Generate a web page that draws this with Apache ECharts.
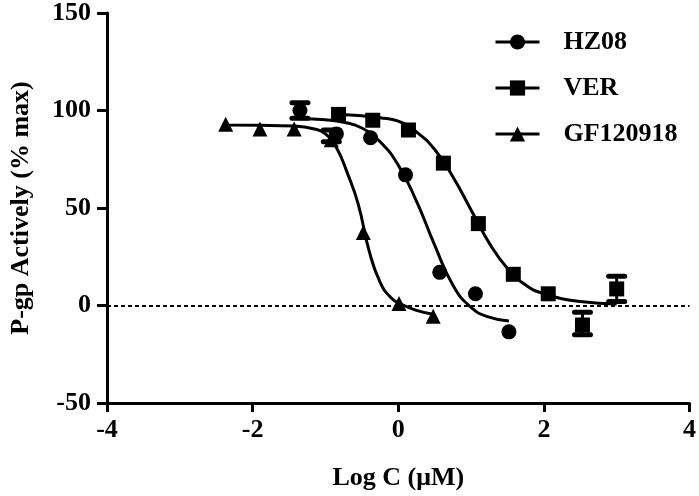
<!DOCTYPE html>
<html>
<head>
<meta charset="utf-8">
<script src="https://cdn.jsdelivr.net/npm/echarts@6/dist/echarts.min.js"></script>
<style>html,body{margin:0;padding:0;background:#fff}#c{width:699px;height:496px}</style>
</head>
<body>
<div id="c"></div>
<script>
// Tick labels
const xTicks = [-4, -2, 0, 2, 4];
const yTicks = [-50, 0, 50, 100, 150];

// Measured points (log C, % max)
const hzX = [-1.35, -0.85, -0.38, 0.1, 0.57, 1.06, 1.52];
const hzY = [100, 88, 86, 67, 17, 6, -13.5];
const verX = [-0.82, -0.35, 0.14, 0.62, 1.1, 1.58, 2.06, 2.53, 3.0];
const verY = [98, 95, 90, 73, 42, 16, 6, -10, 8.5];
const gfX = [-2.37, -1.9, -1.43, -0.92, -0.48, 0.01, 0.48];
const gfY = [93, 90.5, 90.5, 85, 37.5, 1, -5.5];

// Error bars [x, low, high]
const hzErr = [[-1.35, 96, 104]];
const verErr = [[2.53, -15, -3.5], [3.0, 2, 15]];
const gfErr = [[-0.92, 84, 90]];

// Fitted curves
const hzCurveX = [-1.35, -1.0, -0.75, -0.5, -0.25, 0, 0.25, 0.5, 0.75, 1.0, 1.25, 1.52];
const hzCurveY = [95.8, 95.2, 94, 91, 84, 72, 53.5, 31, 10.5, -1, -6, -8];
const verCurveX = [-0.82, -0.5, -0.25, 0, 0.25, 0.5, 0.75, 1.0, 1.25, 1.5, 1.75, 2.0, 2.5, 3.0];
const verCurveY = [98, 97.3, 96.3, 94.5, 89, 80, 66, 49, 32, 19, 10.5, 6, 2, 0.8];
const gfCurveX = [-2.37, -1.9, -1.43, -1.15, -1.0, -0.85, -0.7, -0.55, -0.4, -0.25, -0.1, 0.05, 0.25, 0.48];
const gfCurveY = [92.5, 92.4, 92, 90.5, 88, 81, 68, 52, 28, 12, 4, 0.5, -2.5, -4.5];

const zip = (a, b) => a.map((v, i) => [v, b[i]]);
const FONT = 'Liberation Serif';

function errRender(params, api) {
  const x = api.value(0);
  const lo = api.coord([x, api.value(1)]);
  const hi = api.coord([x, api.value(2)]);
  const hw = 8;
  const st = {stroke: '#000', lineWidth: 3};
  const cap = {stroke: '#000', lineWidth: 5, lineCap: 'round'};
  return {
    type: 'group',
    children: [
      {type: 'line', shape: {x1: lo[0], y1: lo[1], x2: hi[0], y2: hi[1]}, style: st},
      {type: 'line', shape: {x1: lo[0] - hw, y1: lo[1], x2: lo[0] + hw, y2: lo[1]}, style: cap},
      {type: 'line', shape: {x1: hi[0] - hw, y1: hi[1], x2: hi[0] + hw, y2: hi[1]}, style: cap}
    ]
  };
}

function curve(data) {
  return {
    type: 'line', data: data, smooth: 0.5, symbol: 'none', silent: true,
    lineStyle: {color: '#000', width: 3}, z: 2
  };
}
function marks(name, sym, data) {
  return {
    name: name, type: 'line', data: data, symbol: sym, symbolSize: 15,
    itemStyle: {color: '#000'}, lineStyle: {width: 0, color: '#000'}, z: 4
  };
}
function errs(data) {
  return {type: 'custom', renderItem: errRender, data: data, z: 3, silent: true};
}

const chart = echarts.init(document.getElementById('c'));
chart.setOption({
  animation: false,
  backgroundColor: '#fff',
  grid: {left: 95, right: 7, top: 10, bottom: 90},
  legend: {
    orient: 'vertical', left: 489, top: 24, itemWidth: 44, itemHeight: 19, itemGap: 20,
    lineStyle: {width: 3, color: '#000', opacity: 1},
    textStyle: {fontFamily: FONT, fontWeight: 'bold', fontSize: 26, color: '#000', padding: [0, 0, 0, 19]},
    data: ['HZ08', 'VER', 'GF120918']
  },
  xAxis: {
    type: 'value', min: xTicks[0], max: xTicks[xTicks.length - 1], interval: 2,
    name: 'Log C (μM)', nameLocation: 'middle', nameGap: 62,
    nameTextStyle: {fontFamily: FONT, fontWeight: 'bold', fontSize: 26, color: '#000'},
    axisLine: {onZero: false, lineStyle: {color: '#000', width: 3}},
    axisTick: {length: 9, lineStyle: {color: '#000', width: 3}},
    axisLabel: {fontFamily: FONT, fontWeight: 'bold', fontSize: 26, color: '#000', margin: 14},
    splitLine: {show: false}
  },
  yAxis: {
    type: 'value', min: yTicks[0], max: yTicks[yTicks.length - 1], interval: 50,
    name: 'P-gp Actively (% max)', nameLocation: 'middle', nameGap: 73,
    nameTextStyle: {fontFamily: FONT, fontWeight: 'bold', fontSize: 26, color: '#000'},
    axisLine: {onZero: false, lineStyle: {color: '#000', width: 3}},
    axisTick: {length: 10, lineStyle: {color: '#000', width: 3}},
    axisLabel: {fontFamily: FONT, fontWeight: 'bold', fontSize: 26, color: '#000', margin: 16},
    splitLine: {show: false}
  },
  series: [
    curve(zip(hzCurveX, hzCurveY)),
    curve(zip(verCurveX, verCurveY)),
    curve(zip(gfCurveX, gfCurveY)),
    {
      type: 'line', data: [], silent: true,
      markLine: {
        silent: true, symbol: 'none', label: {show: false},
        lineStyle: {color: '#000', width: 2, type: [4, 3]},
        data: [[{coord: [xTicks[0], 0]}, {coord: [xTicks[xTicks.length - 1], 0]}]]
      }
    },
    errs(hzErr), errs(verErr), errs(gfErr),
    marks('HZ08', 'circle', zip(hzX, hzY)),
    marks('VER', 'rect', zip(verX, verY)),
    marks('GF120918', 'triangle', zip(gfX, gfY))
  ]
});
</script>
</body>
</html>
